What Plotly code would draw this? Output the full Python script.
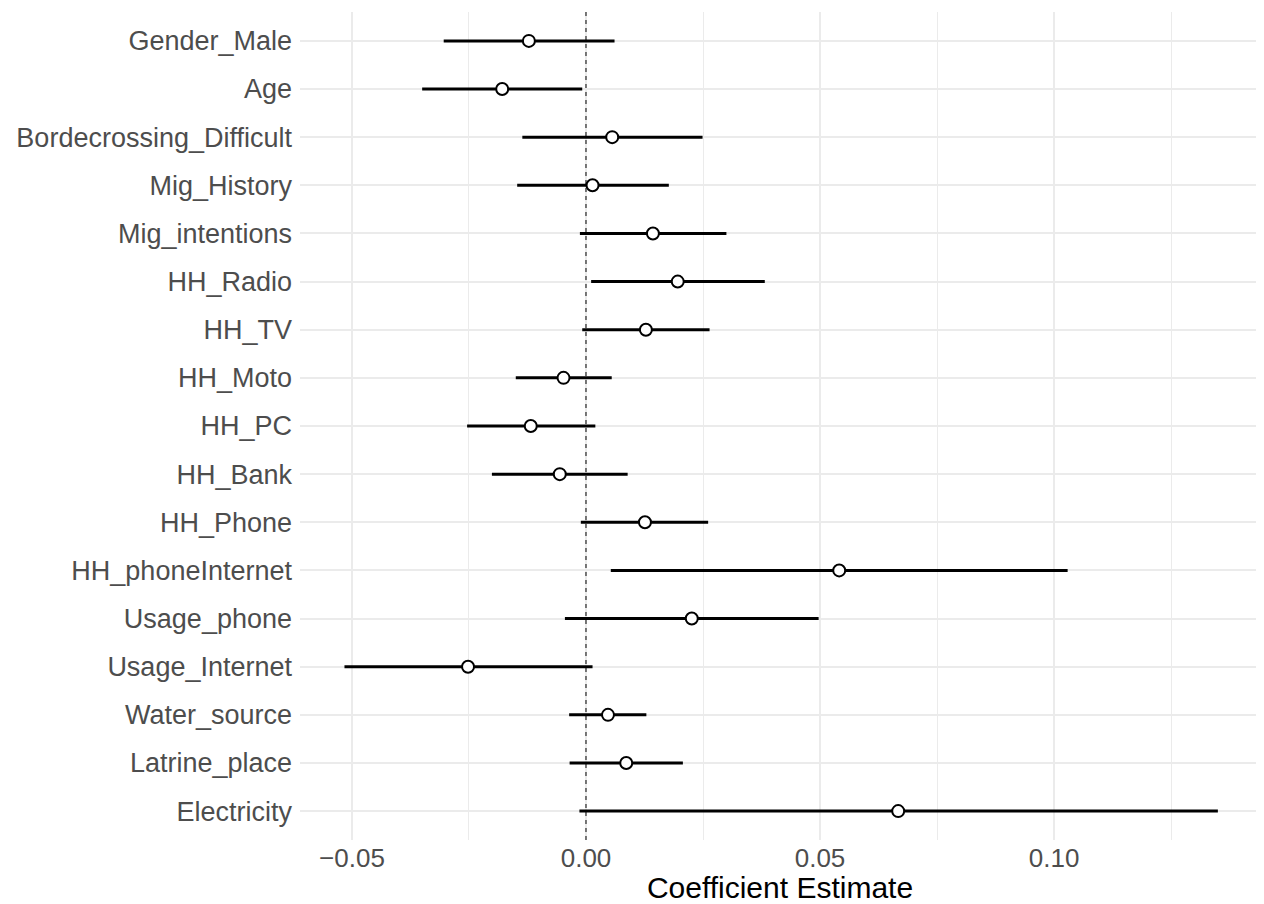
import plotly.graph_objects as go

# Data (top to bottom)
terms = ["Gender_Male", "Age", "Bordecrossing_Difficult", "Mig_History", "Mig_intentions",
         "HH_Radio", "HH_TV", "HH_Moto", "HH_PC", "HH_Bank", "HH_Phone",
         "HH_phoneInternet", "Usage_phone", "Usage_Internet", "Water_source",
         "Latrine_place", "Electricity"]
estimate = [-0.0122, -0.0179, 0.0056, 0.0014, 0.0143,
            0.0196, 0.0128, -0.0048, -0.0118, -0.0056, 0.0126,
            0.0541, 0.0226, -0.0252, 0.0047,
            0.0086, 0.0667]
conf_low = [-0.0304, -0.0350, -0.0136, -0.0147, -0.0013,
            0.0011, -0.0008, -0.0150, -0.0254, -0.0201, -0.0011,
            0.0053, -0.0045, -0.0516, -0.0036,
            -0.0035, -0.0014]
conf_high = [0.0061, -0.0008, 0.0249, 0.0177, 0.0300,
             0.0382, 0.0264, 0.0055, 0.0020, 0.0089, 0.0261,
             0.1029, 0.0497, 0.0014, 0.0129,
             0.0207, 0.1350]

x_tickvals = [-0.05, 0.0, 0.05, 0.10]
x_ticktext = ["\u22120.05", "0.00", "0.05", "0.10"]
x_minorvals = [-0.075, -0.025, 0.025, 0.075, 0.125]

err_plus = [h - e for h, e in zip(conf_high, estimate)]
err_minus = [e - l for e, l in zip(estimate, conf_low)]

fig = go.Figure()
fig.add_trace(go.Scatter(
    x=estimate, y=terms, mode="markers",
    marker=dict(symbol="circle", size=12, color="white",
                line=dict(color="black", width=2)),
    error_x=dict(type="data", symmetric=False, array=err_plus,
                 arrayminus=err_minus, width=0, thickness=3, color="black"),
    showlegend=False, hoverinfo="skip",
))

fig.add_shape(type="line", xref="x", yref="paper", x0=0, x1=0, y0=0, y1=1,
              line=dict(color="black", width=1, dash="4px,4px"), layer="above")

font_family = "Liberation Sans, Arial, sans-serif"
fig.update_layout(
    width=1256, height=896,
    paper_bgcolor="white", plot_bgcolor="white",
    margin=dict(l=292, r=4, t=4, b=64),
    font=dict(family=font_family),
    xaxis=dict(
        range=[-0.0611, 0.1440],
        tickvals=x_tickvals, ticktext=x_ticktext,
        tickfont=dict(size=26, color="#4d4d4d", family=font_family),
        showgrid=True, gridcolor="#ebebeb", gridwidth=2,
        minor=dict(tickvals=x_minorvals, showgrid=True, gridcolor="#ebebeb", gridwidth=1),
        zeroline=False, showline=False, ticks="",
        title=dict(text="Coefficient Estimate", font=dict(size=30, color="black"), standoff=2),
        automargin=False,
    ),
    yaxis=dict(
        categoryorder="array", categoryarray=terms,
        range=[len(terms) - 0.4, -0.6],
        tickfont=dict(size=27, color="#4d4d4d", family=font_family),
        showgrid=True, gridcolor="#ebebeb", gridwidth=2,
        zeroline=False, showline=False, ticks="",
        ticklabelstandoff=7,
        automargin=False,
    ),
)

fig.write_html("out.html")
